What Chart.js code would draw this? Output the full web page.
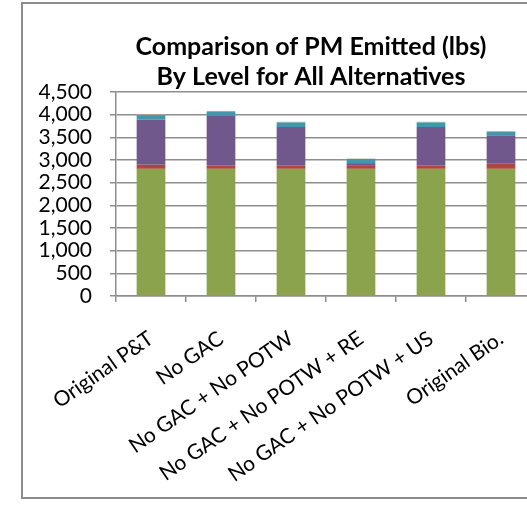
<!DOCTYPE html>
<html>
<head>
<meta charset="utf-8">
<script src="https://cdn.jsdelivr.net/npm/chart.js@4/dist/chart.umd.min.js"></script>
<style>
  html, body { margin: 0; padding: 0; background: #fff; overflow: hidden; width: 527px; height: 506px; }
  #frame { position: absolute; left: 21px; top: 2px; width: 700px; height: 497px; border: 2px solid #8c8c8c; box-sizing: border-box; }
  #c { position: absolute; left: 0; top: 0; }
</style>
</head>
<body>
<div id="frame"></div>
<canvas id="c" width="622" height="506"></canvas>
<script>
const categories = ["Original P&T", "No GAC", "No GAC + No POTW", "No GAC + No POTW + RE", "No GAC + No POTW + US", "Original Bio."];
const level1 = [2805, 2805, 2805, 2805, 2805, 2805];
const level2 = [88, 66, 66, 66, 66, 112];
const level3 = [996, 1097, 856, 60, 856, 615];
const level4 = [101, 105, 103, 94, 103, 96];
const level5 = [10, 10, 15, 8, 15, 8];
const titleLines = ["Comparison of PM Emitted (lbs)", "By Level for All Alternatives"];

const seriesColors = ["#8aa34c", "#b0463f", "#70588d", "#4397ad", "#e9c08f"];
const seriesData = [level1, level2, level3, level4, level5];

const gridColor = "#8e8e8e";

new Chart(document.getElementById("c"), {
  type: "bar",
  data: {
    labels: categories,
    datasets: seriesData.map((d, i) => ({
      label: "Level " + (i + 1),
      data: d,
      backgroundColor: seriesColors[i],
      borderWidth: 0,
      categoryPercentage: 1,
      barPercentage: 0.41
    }))
  },
  options: {
    responsive: false,
    animation: false,
    devicePixelRatio: 1,
    layout: { padding: 0 },
    plugins: {
      legend: { display: false },
      tooltip: { enabled: false },
      title: {
        display: true,
        text: titleLines,
        color: "#000",
        font: { family: "Lato", size: 25, weight: "bold", lineHeight: "30px" },
        padding: { top: 32, bottom: 0 }
      }
    },
    scales: {
      x: {
        stacked: true,
        grid: { display: true, drawOnChartArea: false, drawTicks: true, tickLength: 6, color: gridColor, lineWidth: 1.5, offset: true },
        border: { display: true, color: gridColor, width: 1.5 },
        ticks: { color: "#000", font: { family: "Lato", size: 21 }, minRotation: 35, maxRotation: 35, padding: 24, autoSkip: false },
        afterFit(s) { s.height = 210; }
      },
      y: {
        stacked: true,
        min: 0,
        max: 4500,
        grid: { color: gridColor, lineWidth: 1.5, drawTicks: true, tickLength: 6 },
        border: { display: true, color: gridColor, width: 1.5 },
        ticks: {
          stepSize: 500,
          autoSkip: false,
          color: "#000",
          padding: 18,
          font: { family: "Lato", size: 21 },
          callback: v => v.toLocaleString("en-US")
        },
        afterFit(s) { s.width = 116; }
      },
      yRight: {
        position: "right",
        display: true,
        grid: { display: false },
        border: { display: false },
        ticks: { display: false },
        afterFit(s) { s.width = 86; }
      }
    }
  }
});
</script>
</body>
</html>
